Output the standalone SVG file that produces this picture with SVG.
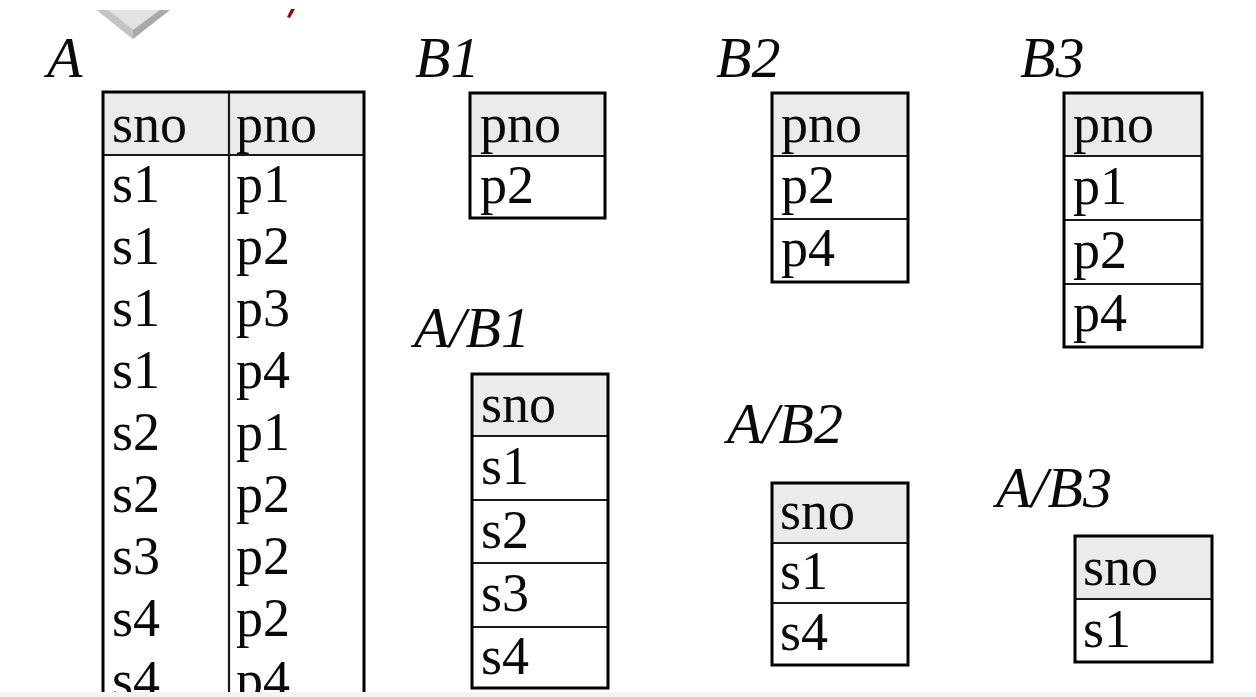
<svg xmlns="http://www.w3.org/2000/svg" width="1256" height="697" viewBox="0 0 1256 697">
<style>
.t{font-family:"Liberation Serif","Times New Roman",serif;font-size:54px;fill:#0a0a0a}
.ti{font-family:"Liberation Serif","Times New Roman",serif;font-size:58px;font-style:italic;fill:#0a0a0a}
.hd{fill:#ebebeb}
.bx{fill:none;stroke:#000;stroke-width:3}
.ln{stroke:#1a1a1a;stroke-width:2.2}
</style>
<defs>
<clipPath id="cpA"><rect x="0" y="0" width="1256" height="692"/></clipPath>
</defs>
<rect width="1256" height="697" fill="#fff"/>
<g id="chevron">
<polygon points="97,10 170,10 133,39" fill="#a9a9a9"/>
<polygon points="97,10 133,39 133,30 108,10" fill="#c4c4c4"/>
<polygon points="108,10 160,10 133,30" fill="#e2e2e2"/>
</g>
<path id="redmark" d="M291,9 L295,9 L290,18 L287,17 Z" fill="#8b0a0a"/>

<g id="labels">
<text class="ti" x="47" y="77">A</text>
<text class="ti" x="415" y="77">B1</text>
<text class="ti" x="716" y="77">B2</text>
<text class="ti" x="1020" y="77">B3</text>
<text class="ti" x="414" y="347">A/B1</text>
<text class="ti" x="727" y="443">A/B2</text>
<text class="ti" x="996" y="507">A/B3</text>
</g>

<g id="tableA" clip-path="url(#cpA)">
<rect class="hd" x="103" y="92" width="261" height="63"/>
<line class="ln" x1="103" y1="155" x2="364" y2="155"/>
<line class="ln" x1="229" y1="92" x2="229" y2="697"/>
<polyline class="bx" points="103,697 103,92 364,92 364,697"/>
<text class="t" x="112" y="142">sno</text>
<text class="t" x="236" y="142">pno</text>
<text class="t" x="112" y="202">s1</text><text class="t" x="236" y="202">p1</text>
<text class="t" x="112" y="264">s1</text><text class="t" x="236" y="264">p2</text>
<text class="t" x="112" y="326">s1</text><text class="t" x="236" y="326">p3</text>
<text class="t" x="112" y="388">s1</text><text class="t" x="236" y="388">p4</text>
<text class="t" x="112" y="450">s2</text><text class="t" x="236" y="450">p1</text>
<text class="t" x="112" y="512">s2</text><text class="t" x="236" y="512">p2</text>
<text class="t" x="112" y="574">s3</text><text class="t" x="236" y="574">p2</text>
<text class="t" x="112" y="636">s4</text><text class="t" x="236" y="636">p2</text>
<text class="t" x="112" y="698">s4</text><text class="t" x="236" y="698">p4</text>
</g>
<rect x="0" y="692" width="1256" height="5" fill="#f3f3f3"/>

<g id="tableB1">
<rect class="hd" x="470" y="93" width="135" height="63"/>
<line class="ln" x1="470" y1="156" x2="605" y2="156"/>
<rect class="bx" x="470" y="93" width="135" height="125"/>
<text class="t" x="480" y="142">pno</text>
<text class="t" x="480" y="203">p2</text>
</g>

<g id="tableB2">
<rect class="hd" x="772" y="93" width="136" height="63"/>
<line class="ln" x1="772" y1="156" x2="908" y2="156"/>
<line class="ln" x1="772" y1="219" x2="908" y2="219"/>
<rect class="bx" x="772" y="93" width="136" height="189"/>
<text class="t" x="781" y="142">pno</text>
<text class="t" x="781" y="203">p2</text>
<text class="t" x="781" y="266">p4</text>
</g>

<g id="tableB3">
<rect class="hd" x="1064" y="93" width="138" height="63"/>
<line class="ln" x1="1064" y1="156" x2="1202" y2="156"/>
<line class="ln" x1="1064" y1="220" x2="1202" y2="220"/>
<line class="ln" x1="1064" y1="284" x2="1202" y2="284"/>
<rect class="bx" x="1064" y="93" width="138" height="254"/>
<text class="t" x="1073" y="142">pno</text>
<text class="t" x="1073" y="204">p1</text>
<text class="t" x="1073" y="268">p2</text>
<text class="t" x="1073" y="331">p4</text>
</g>

<g id="tableAB1">
<rect class="hd" x="472" y="374" width="136" height="62"/>
<line class="ln" x1="472" y1="436" x2="608" y2="436"/>
<line class="ln" x1="472" y1="500" x2="608" y2="500"/>
<line class="ln" x1="472" y1="563" x2="608" y2="563"/>
<line class="ln" x1="472" y1="627" x2="608" y2="627"/>
<rect class="bx" x="472" y="374" width="136" height="314"/>
<text class="t" x="481" y="422">sno</text>
<text class="t" x="481" y="484">s1</text>
<text class="t" x="481" y="548">s2</text>
<text class="t" x="481" y="611">s3</text>
<text class="t" x="481" y="674">s4</text>
</g>

<g id="tableAB2">
<rect class="hd" x="772" y="483" width="136" height="60"/>
<line class="ln" x1="772" y1="543" x2="908" y2="543"/>
<line class="ln" x1="772" y1="603" x2="908" y2="603"/>
<rect class="bx" x="772" y="483" width="136" height="182"/>
<text class="t" x="780" y="529">sno</text>
<text class="t" x="780" y="589">s1</text>
<text class="t" x="780" y="650">s4</text>
</g>

<g id="tableAB3">
<rect class="hd" x="1075" y="536" width="137" height="63"/>
<line class="ln" x1="1075" y1="599" x2="1212" y2="599"/>
<rect class="bx" x="1075" y="536" width="137" height="126"/>
<text class="t" x="1083" y="585">sno</text>
<text class="t" x="1083" y="647">s1</text>
</g>
</svg>
